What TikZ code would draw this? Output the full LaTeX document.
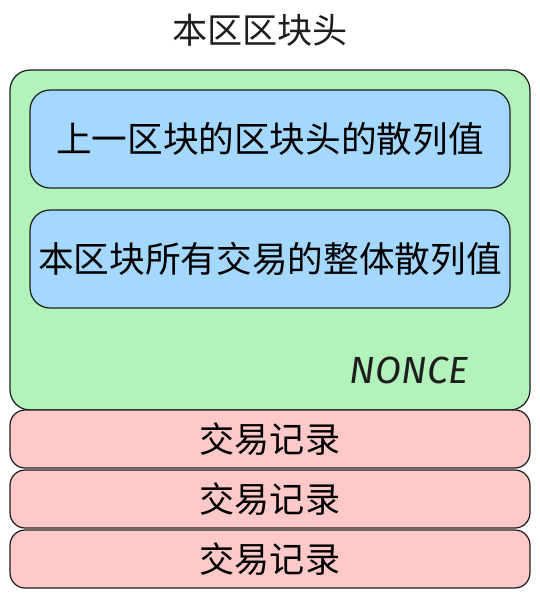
\documentclass[tikz,border=0pt]{standalone}
\usepackage{fontspec}
\setmainfont{Noto Sans CJK SC}
\newfontfamily\noncefont{Fira Sans}
\usetikzlibrary{positioning}
\definecolor{headergreen}{HTML}{B2F2BB}
\definecolor{hashblue}{HTML}{A5D8FF}
\definecolor{recordred}{HTML}{FFC9C9}
\definecolor{inkgray}{HTML}{1E1E1E}

\begin{document}
\begin{tikzpicture}[x=0.02cm, y=-0.02cm]
% Define styles
\tikzstyle{header} = [rectangle, rounded corners=0.4cm, minimum width=10.4cm, minimum height=6.8cm, draw=inkgray, fill=headergreen, line width=0.7pt]
\tikzstyle{hash} = [rectangle, rounded corners=0.4cm, minimum width=9.6cm, minimum height=1.96cm, text centered, draw=inkgray, fill=hashblue, line width=0.7pt, font=\fontsize{20.3}{24}\selectfont]
\tikzstyle{record} = [rectangle, rounded corners=0.3cm, minimum width=10.4cm, minimum height=1.16cm, text centered, draw=inkgray, fill=recordred, line width=0.7pt, font=\fontsize{20}{24}\selectfont]

\useasboundingbox (0,0) rectangle (540,600);

% Nodes
\node (title) at (260,30) [font=\fontsize{20}{24}\selectfont, text=inkgray] {本区区块头};
\node (block) at (270,240) [header] {};
\node (prevhash) at (270,139) [hash] {上一区块的区块头的散列值};
\node (txhash) at (270,259) [hash] {本区块所有交易的整体散列值};
\node (nonce) at (409,370) [font=\noncefont\itshape\fontsize{21.5}{24}\selectfont, text=inkgray] {NONCE};
\node (rec1) at (270,439) [record] {交易记录};
\node (rec2) at (270,499) [record] {交易记录};
\node (rec3) at (270,559) [record] {交易记录};
\end{tikzpicture}
\end{document}
